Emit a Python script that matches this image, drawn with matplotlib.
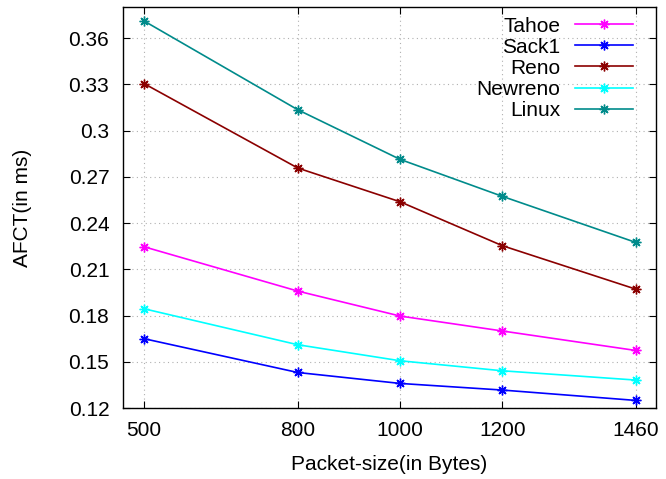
import matplotlib
matplotlib.use("Agg")
import matplotlib.pyplot as plt

plt.rcParams['font.family'] = ['Liberation Sans', 'DejaVu Sans']

# taille de paquet (octets)
packet_size = [500, 800, 1000, 1200, 1460]

# AFCT (ms) par variante TCP
tahoe = [0.2246, 0.1959, 0.1797, 0.1700, 0.1574]
sack1 = [0.1650, 0.1431, 0.1360, 0.1317, 0.1250]
reno = [0.3304, 0.2757, 0.2538, 0.2253, 0.1972]
newreno = [0.1844, 0.1611, 0.1507, 0.1442, 0.1382]
linux = [0.3710, 0.3135, 0.2813, 0.2573, 0.2275]

series = [("Tahoe", tahoe, "#ff00ff"),
          ("Sack1", sack1, "#0000ff"),
          ("Reno", reno, "#8b0000"),
          ("Newreno", newreno, "#00ffff"),
          ("Linux", linux, "#008b8b")]

yticks = [0.12, 0.15, 0.18, 0.21, 0.24, 0.27, 0.3, 0.33, 0.36]
ytick_labels = ["0.12", "0.15", "0.18", "0.21", "0.24", "0.27", "0.3", "0.33", "0.36"]

fig = plt.figure(figsize=(6.66, 4.79), dpi=100)
ax = fig.add_axes([0.185, 0.148, 0.800, 0.837])

for nom, vals, coul in series:
    ax.plot(packet_size, vals, color=coul, lw=1.2, marker=(8, 2, 0),
            markersize=7, markeredgewidth=1.0, label=nom)

ax.set_xlim(459, 1500)
ax.set_ylim(0.12, 0.38)
ax.set_xticks(packet_size)
ax.set_xticklabels([str(p) for p in packet_size])
ax.set_yticks(yticks)
ax.set_yticklabels(ytick_labels)
ax.tick_params(direction='in', top=True, right=True, labelsize=15, length=5)
ax.tick_params(axis='y', pad=10)
ax.tick_params(axis='x', pad=9)
ax.grid(True, color='#b0b0b0', linestyle=(0, (1, 3)), linewidth=0.8)
for s in ax.spines.values():
    s.set_linewidth(1.0)

ax.set_xlabel("Packet-size(in Bytes)", fontsize=15, labelpad=11)
ax.set_ylabel("AFCT(in ms)", fontsize=15, labelpad=26)

ax.legend(loc='upper right', frameon=False, markerfirst=False, fontsize=15,
          handlelength=2.8, labelspacing=0.1, borderaxespad=0.05,
          handletextpad=0.7, bbox_to_anchor=(0.975, 1.0))

fig.savefig("out.png", dpi=100)
